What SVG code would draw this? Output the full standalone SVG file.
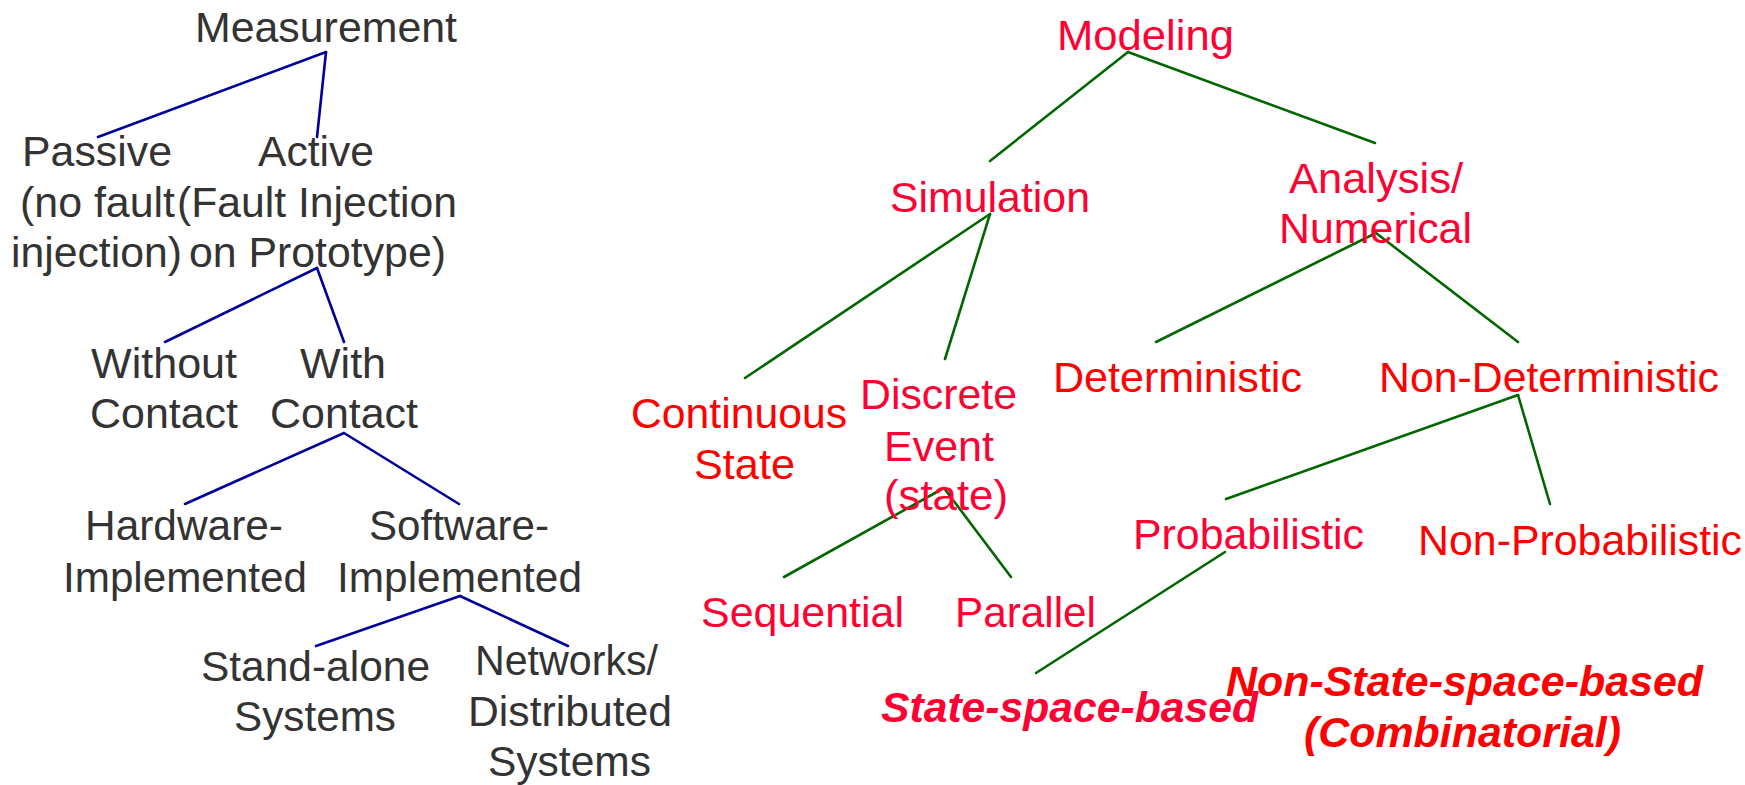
<svg xmlns="http://www.w3.org/2000/svg" width="1745" height="785" viewBox="0 0 1745 785">
  <style>
    text { font-family: "Liberation Sans", Arial, sans-serif; font-size: 42px; }
    .g { fill: #333333; }
    .r { fill: #FF0000; }
    .c { fill: #FF0033; }
    .bi { font-weight: bold; font-style: italic; }
    .blue line { stroke: #000099; stroke-width: 2.6; stroke-linecap: round; }
    .green line { stroke: #006600; stroke-width: 2.6; stroke-linecap: round; }
  </style>
  <rect width="1745" height="785" fill="#FFFFFF"/>

  <!-- Measurement tree connectors -->
  <g id="connectors-measurement" class="blue">
    <line x1="326" y1="52" x2="98" y2="137"/>
    <line x1="326" y1="52" x2="317" y2="137"/>
    <line x1="317" y1="268" x2="165" y2="342"/>
    <line x1="317" y1="268" x2="344" y2="342"/>
    <line x1="344" y1="433" x2="185" y2="504"/>
    <line x1="344" y1="433" x2="459" y2="504"/>
    <line x1="460" y1="596" x2="316" y2="646"/>
    <line x1="460" y1="596" x2="568" y2="646"/>
  </g>

  <!-- Modeling tree connectors -->
  <g id="connectors-modeling" class="green">
    <line x1="1128" y1="52" x2="990" y2="161"/>
    <line x1="1128" y1="52" x2="1375" y2="143"/>
    <line x1="990" y1="214" x2="745" y2="378"/>
    <line x1="990" y1="214" x2="945" y2="359"/>
    <line x1="1376" y1="233" x2="1156" y2="342"/>
    <line x1="1376" y1="233" x2="1518" y2="342"/>
    <line x1="944" y1="488" x2="784" y2="577"/>
    <line x1="944" y1="488" x2="1011" y2="577"/>
    <line x1="1518" y1="395" x2="1226" y2="499"/>
    <line x1="1518" y1="395" x2="1550" y2="504"/>
    <line x1="1225" y1="552" x2="1036" y2="673"/>
  </g>

  <!-- Measurement tree nodes -->
  <g id="node-measurement" class="g">
    <text x="195" y="42" textLength="262" lengthAdjust="spacingAndGlyphs">Measurement</text>
  </g>
  <g id="node-passive" class="g">
    <text x="22" y="166" textLength="150" lengthAdjust="spacingAndGlyphs">Passive</text>
    <text x="20" y="217" textLength="155" lengthAdjust="spacingAndGlyphs">(no fault</text>
    <text x="11" y="267" textLength="171" lengthAdjust="spacingAndGlyphs">injection)</text>
  </g>
  <g id="node-active" class="g">
    <text x="258" y="166" textLength="116" lengthAdjust="spacingAndGlyphs">Active</text>
    <text x="177" y="217" textLength="280" lengthAdjust="spacingAndGlyphs">(Fault Injection</text>
    <text x="189" y="267" textLength="257" lengthAdjust="spacingAndGlyphs">on Prototype)</text>
  </g>
  <g id="node-without-contact" class="g">
    <text x="91" y="378" textLength="146" lengthAdjust="spacingAndGlyphs">Without</text>
    <text x="90" y="428" textLength="148" lengthAdjust="spacingAndGlyphs">Contact</text>
  </g>
  <g id="node-with-contact" class="g">
    <text x="300" y="378" textLength="86" lengthAdjust="spacingAndGlyphs">With</text>
    <text x="270" y="428" textLength="148" lengthAdjust="spacingAndGlyphs">Contact</text>
  </g>
  <g id="node-hardware" class="g">
    <text x="85" y="540" textLength="198" lengthAdjust="spacingAndGlyphs">Hardware-</text>
    <text x="63" y="592" textLength="244" lengthAdjust="spacingAndGlyphs">Implemented</text>
  </g>
  <g id="node-software" class="g">
    <text x="369" y="540" textLength="180" lengthAdjust="spacingAndGlyphs">Software-</text>
    <text x="337" y="592" textLength="245" lengthAdjust="spacingAndGlyphs">Implemented</text>
  </g>
  <g id="node-standalone" class="g">
    <text x="201" y="681" textLength="229" lengthAdjust="spacingAndGlyphs">Stand-alone</text>
    <text x="234" y="731" textLength="162" lengthAdjust="spacingAndGlyphs">Systems</text>
  </g>
  <g id="node-networks" class="g">
    <text x="475" y="675" textLength="183" lengthAdjust="spacingAndGlyphs">Networks/</text>
    <text x="468" y="726" textLength="204" lengthAdjust="spacingAndGlyphs">Distributed</text>
    <text x="488" y="776" textLength="163" lengthAdjust="spacingAndGlyphs">Systems</text>
  </g>

  <!-- Modeling tree nodes -->
  <g id="node-modeling" class="c">
    <text x="1057" y="50" textLength="177" lengthAdjust="spacingAndGlyphs">Modeling</text>
  </g>
  <g id="node-simulation" class="c">
    <text x="890" y="212" textLength="200" lengthAdjust="spacingAndGlyphs">Simulation</text>
  </g>
  <g id="node-analysis" class="c">
    <text x="1289" y="193" textLength="174" lengthAdjust="spacingAndGlyphs">Analysis/</text>
    <text x="1279" y="243" textLength="193" lengthAdjust="spacingAndGlyphs">Numerical</text>
  </g>
  <g id="node-continuous" class="r">
    <text x="631" y="428" textLength="216" lengthAdjust="spacingAndGlyphs">Continuous</text>
    <text x="694" y="479" textLength="101" lengthAdjust="spacingAndGlyphs">State</text>
  </g>
  <g id="node-discrete" class="c">
    <text x="860" y="409" textLength="157" lengthAdjust="spacingAndGlyphs">Discrete</text>
    <text x="884" y="461" textLength="110" lengthAdjust="spacingAndGlyphs">Event</text>
    <text x="884" y="510" textLength="124" lengthAdjust="spacingAndGlyphs">(state)</text>
  </g>
  <g id="node-deterministic" class="r">
    <text x="1053" y="392" textLength="249" lengthAdjust="spacingAndGlyphs">Deterministic</text>
  </g>
  <g id="node-non-deterministic" class="r">
    <text x="1379" y="392" textLength="340" lengthAdjust="spacingAndGlyphs">Non-Deterministic</text>
  </g>
  <g id="node-sequential" class="c">
    <text x="701" y="627" textLength="203" lengthAdjust="spacingAndGlyphs">Sequential</text>
  </g>
  <g id="node-parallel" class="c">
    <text x="955" y="627" textLength="141" lengthAdjust="spacingAndGlyphs">Parallel</text>
  </g>
  <g id="node-probabilistic" class="c">
    <text x="1133" y="549" textLength="231" lengthAdjust="spacingAndGlyphs">Probabilistic</text>
  </g>
  <g id="node-non-probabilistic" class="r">
    <text x="1418" y="555" textLength="324" lengthAdjust="spacingAndGlyphs">Non-Probabilistic</text>
  </g>
  <g id="node-state-space" class="c bi">
    <text x="881" y="722" textLength="377" lengthAdjust="spacingAndGlyphs">State-space-based</text>
  </g>
  <g id="node-non-state-space" class="r bi">
    <text x="1226" y="696" textLength="477" lengthAdjust="spacingAndGlyphs">Non-State-space-based</text>
    <text x="1304" y="747" textLength="317" lengthAdjust="spacingAndGlyphs">(Combinatorial)</text>
  </g>
</svg>
